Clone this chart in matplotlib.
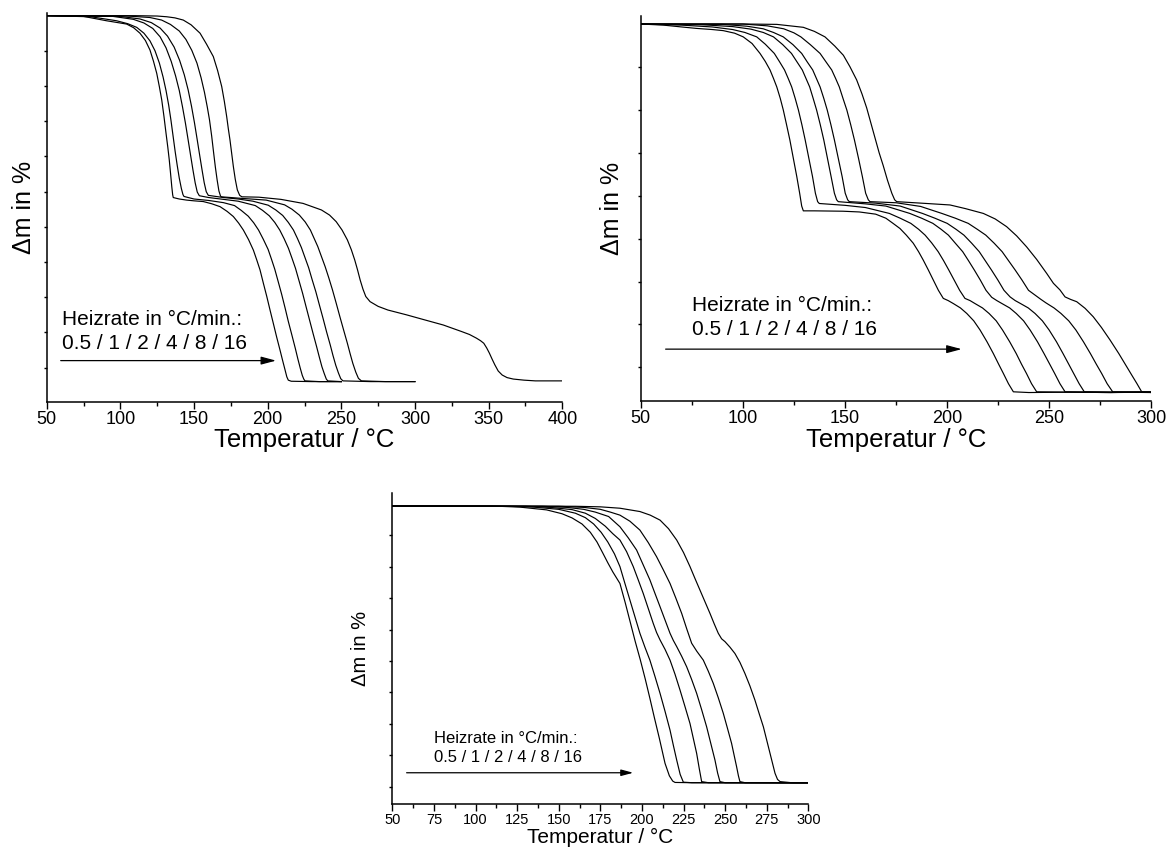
import matplotlib
matplotlib.use('Agg')
import matplotlib.pyplot as plt
from matplotlib.ticker import MultipleLocator
import numpy as np

plt.rcParams['font.family'] = ['Liberation Sans', 'DejaVu Sans']

# (Temperatur in °C, delta m in %), one list per heating rate

# --- top left panel ---
p1_r05 = [(50, 0), (75, -0.2), (90.7, -1.4), (104.3, -2.3), (109, -3.3), (113.3, -4.8), (117, -6.8), (120.1, -9.4),
          (122.5, -12.5), (124.7, -15.8), (126.5, -19.5), (128.1, -23.1), (129.6, -27.6), (131.0, -32.2), (132.2, -36),
          (133.2, -39.5), (134.1, -43.3), (134.9, -46.8), (135.5, -49), (135.9, -49.8), (140, -50.2), (145, -50.5),
          (150, -50.7), (156.3, -50.9), (162, -51.5), (167.7, -52.3), (172.5, -53.6), (176.7, -55.0), (180.3, -56.8),
          (183.5, -58.7), (187, -61.3), (190.3, -64.2), (192.6, -66.9), (194.8, -69.6), (197.1, -73.3), (199.4, -76.9),
          (201.6, -80.6), (203.8, -84.2), (206.1, -88), (208.4, -91.6), (210.2, -94.5), (211.8, -97), (213, -98.9),
          (214, -99.8), (216, -100.1), (230, -100.2), (250, -100.2)]
p1_r1 = [(50, 0), (80, -0.3), (97.5, -1.4), (105, -2.2), (111.1, -3.2), (116, -4.8), (120.1, -6.9), (123.5, -9.6),
         (126.5, -13), (129, -16.8), (131, -20.5), (132.8, -24.5), (134.3, -28.5), (135.8, -33), (137.2, -37.2),
         (138.6, -41), (140, -44.5), (141.4, -47.3), (142.5, -49), (143.2, -49.5), (150, -50.2), (160, -50.6),
         (170, -51.2), (177.5, -52.0), (182, -53.3), (186.8, -54.9), (190.5, -56.7), (193.8, -58.7), (197, -61.2),
         (200.3, -64), (202.6, -66.7), (204.8, -69.4), (207.2, -72.9), (209.5, -76.3), (211.8, -80), (214, -83.7),
         (216.4, -87.4), (218.7, -91), (220.5, -94), (222.1, -96.5), (223.5, -98.5), (224.5, -99.5), (225.3, -100),
         (235, -100.2), (250, -100.2)]
p1_r2 = [(50, 0), (95, -0.2), (108.8, -1.0), (116, -2.0), (122, -3.5), (127, -5.8), (131, -8.8), (134.5, -12.5),
         (137.5, -16.5), (140, -20.5), (142.2, -25), (144.2, -29.5), (146, -34), (147.7, -38.3), (149.3, -42.3),
         (150.8, -45.8), (152.2, -48.3), (153.6, -49.3), (160, -49.8), (170, -50.3), (180, -50.8), (191.6, -52),
         (196.5, -53.3), (201.1, -54.8), (204.8, -56.6), (208.2, -58.7), (211.2, -61.1), (214.1, -63.7), (216.5, -66.4),
         (218.9, -69.2), (221.3, -72.6), (223.7, -76), (226, -79.6), (228.4, -83.3), (230.8, -87), (233.2, -90.6),
         (235, -93.4), (236.8, -96.1), (238.4, -98), (239.8, -99.5), (240.8, -100), (250, -100.2)]
p1_r4 = [(50, 0), (100, -0.2), (113.3, -0.9), (121, -1.9), (127, -3.4), (132, -5.6), (136.5, -8.6), (140.2, -12.2),
         (143.4, -16.2), (146, -20.3), (148.3, -24.8), (150.3, -29.3), (152.1, -33.8), (153.8, -38.1), (155.4, -42.1),
         (156.9, -45.7), (158.3, -48.2), (159.7, -49.2), (170, -49.8), (180, -50.2), (190, -50.8), (200.4, -51.9),
         (205.5, -53.2), (210.2, -54.7), (214, -56.6), (217.5, -58.7), (220.2, -61), (222.9, -63.5), (225.3, -66.2),
         (227.8, -69), (230.2, -72.3), (232.7, -75.6), (235.1, -79.2), (237.6, -82.9), (240, -86.6), (242.5, -90.2),
         (244.3, -93), (246.2, -95.7), (248, -97.8), (249.6, -99.4), (251.1, -100), (270, -100.2), (300, -100.2)]
p1_r8 = [(50, 0), (105, -0.1), (120, -0.5), (128, -1.2), (134, -2.4), (140, -4.2), (144.5, -6.5), (148.5, -9.5),
         (152, -13), (154.8, -17), (157.1, -21), (159, -25), (160.5, -28.5), (162, -33), (163.3, -37.5), (164.5, -41.5),
         (165.7, -45), (166.9, -48), (168, -49.4), (168.6, -49.6), (181.4, -50), (199, -50.5), (211.5, -51.8),
         (216.5, -53), (221.5, -54.6), (225.5, -56.5), (229, -58.7), (234, -63.2), (239, -68.7), (241.5, -71.8),
         (244, -75.1), (246.5, -78.7), (249, -82.4), (251.5, -86), (254.1, -89.7), (256, -92.6), (257.8, -95.2),
         (259.8, -97.6), (261.6, -99.3), (263.6, -100), (280, -100.2), (300, -100.2)]
p1_r16 = [(50, 0), (110, 0), (125, -0.1), (131.5, -0.3), (137, -0.6), (142.7, -1.2), (148, -2.5), (154.1, -4.8),
          (158.5, -7.8), (163.1, -11.2), (166, -15), (168.8, -19.4), (170.6, -23.5), (172.2, -27.7), (173.3, -31),
          (174.4, -34), (175.5, -37.5), (176.7, -41.3), (178, -44.8), (179.4, -47.7), (181, -49.2), (182.5, -49.6),
          (194, -49.7), (209, -50.3), (224, -51.4), (236.5, -53.2), (242, -54.6), (246.5, -56.4), (250.5, -58.7),
          (254.1, -61.4), (256.8, -64.1), (259.1, -66.9), (261, -69.6), (262.8, -72.4), (264.7, -74.9), (266.6, -76.9),
          (269.5, -78.3), (275, -79.6), (281.6, -80.6), (294.1, -81.9), (306.6, -83.3), (319.2, -84.7), (331.7, -86.5),
          (337, -87.3), (341.7, -88.3), (344.5, -89), (346.7, -89.7), (348.7, -91), (350.5, -92.4), (352.3, -94),
          (354.2, -95.6), (356.5, -97.3), (359.2, -98.4), (362.5, -99.1), (366.7, -99.5), (374, -99.8), (381.7, -100),
          (400, -100)]

# --- top right panel ---
p2_r05 = [(50, 0), (61.1, -0.3), (70, -0.8), (77.4, -1.2), (85, -1.5), (90.4, -1.8), (96, -2.5), (100.2, -3.5),
          (104.5, -5.3), (108.4, -8.0), (111, -10.2), (113.3, -12.5), (115, -14.8), (116.6, -17.1), (118.3, -20.2),
          (119.8, -23.4), (121.4, -27.4), (123, -31.5), (124.7, -36.5), (126.4, -41.5), (127.8, -46), (128.8, -49.5),
          (129.6, -50.8), (135, -50.8), (149, -50.9), (157, -51.1), (165, -51.7), (170, -52.8), (173.5, -54.2),
          (176.9, -55.6), (180, -57.4), (183.4, -59.6), (186, -61.9), (188.3, -64.2), (190.8, -66.9), (193.2, -69.6),
          (195.7, -72.4), (198.1, -74.6), (200.5, -75.2), (203, -76), (206.5, -77.2), (209.6, -78.7), (213, -80.7),
          (216.1, -83.2), (219.5, -86.4), (222.6, -89.6), (225.2, -92.5), (227.5, -95), (230, -97.8), (232.4, -100),
          (240, -100.2), (260, -100.1), (280, -100.2), (300, -100)]
p2_r1 = [(50, 0), (70, -0.3), (85, -0.8), (95, -1.5), (101, -2.3), (106.8, -3.5), (111, -5.5), (115.4, -8),
         (118, -10.3), (120.4, -12.5), (122.2, -14.8), (123.9, -17.1), (125.6, -20.2), (127.2, -23.4), (128.9, -27.4),
         (130.5, -31.5), (132.3, -36.5), (134.1, -41.5), (135.5, -46), (136.6, -48.3), (137.4, -48.8), (150, -49.3),
         (160, -49.9), (171.7, -51.5), (177, -52.8), (182.2, -54.2), (186, -55.8), (189.2, -57.4), (192.4, -59.5),
         (195.6, -61.9), (198.2, -64.3), (200.8, -66.9), (203.5, -69.7), (206.1, -72.4), (208.7, -74.6), (211.2, -75.2),
         (213.6, -76), (217.3, -77.2), (220.5, -78.7), (224.0, -80.7), (227.1, -83.2), (230.6, -86.4), (233.8, -89.6),
         (236.4, -92.5), (238.8, -95), (241.3, -97.8), (243.8, -100), (260, -100.1), (280, -100.2), (300, -100.1)]
p2_r2 = [(50, 0), (80, -0.2), (95, -0.7), (104, -1.4), (110, -2.3), (115, -3.5), (119.5, -5.6), (123.8, -8),
         (126.5, -10.3), (129.1, -12.5), (130.9, -14.8), (132.7, -17.1), (134.4, -20.2), (136.1, -23.4), (137.9, -27.4),
         (139.6, -31.5), (141.4, -36.5), (143.2, -41.5), (144.8, -46), (145.9, -47.8), (146.7, -48.3), (160, -48.9),
         (170, -49.5), (181.7, -51.5), (187.5, -52.8), (193, -54.2), (197, -55.8), (200.6, -57.4), (204, -59.6),
         (207.6, -61.9), (210.5, -64.4), (213.3, -66.9), (216.2, -69.6), (219, -72.4), (221.8, -74.3), (224.3, -75.2),
         (226.8, -76), (230.6, -77.2), (233.8, -78.7), (237.4, -80.7), (240.6, -83.2), (244.2, -86.4), (247.4, -89.6),
         (250.2, -92.5), (252.6, -95), (255.2, -97.8), (257.7, -100), (280, -100.1), (300, -100.1)]
p2_r4 = [(50, 0), (90, -0.1), (102, -0.6), (110, -1.3), (115, -2.3), (119.8, -3.5), (124.5, -5.6), (128.8, -8),
         (131.5, -10.3), (134.2, -12.5), (136, -14.8), (137.8, -17.1), (139.6, -20.2), (141.3, -23.4), (143.1, -27.4),
         (144.8, -31.5), (146.7, -36.5), (148.6, -41.5), (150.1, -46), (151.3, -47.8), (152.1, -48.3), (165, -48.7),
         (177, -49.5), (187.9, -51.5), (194, -52.8), (200, -54.2), (204.3, -55.8), (208.2, -57.4), (212, -59.6),
         (215.7, -61.9), (218.7, -64.4), (221.7, -66.9), (224.8, -69.6), (227.8, -72.4), (230.8, -74.2), (233.3, -75.2),
         (235.9, -76), (239.7, -77.2), (243, -78.7), (246.6, -80.7), (249.9, -83.2), (253.5, -86.4), (256.7, -89.6),
         (259.5, -92.5), (261.9, -95), (264.6, -97.8), (267.1, -100), (285, -100.1), (300, -100.2)]
p2_r8 = [(50, 0), (100, 0), (112, -0.5), (120, -1.3), (125, -2.4), (128.4, -3.5), (133, -5.6), (137.8, -8),
         (140.7, -10.3), (143.5, -12.5), (145.4, -14.8), (147.2, -17.1), (149, -20.2), (150.9, -23.4), (152.8, -27.4),
         (154.6, -31.5), (156.6, -36.5), (158.5, -41.5), (160.1, -46), (161.4, -47.8), (162.2, -48.3), (175, -48.6),
         (187, -49.6), (197.4, -51.5), (204, -52.8), (210.3, -54.2), (214.7, -55.8), (218.9, -57.4), (223, -59.6),
         (226.9, -61.9), (230.1, -64.4), (233.3, -66.9), (236.6, -69.6), (239.8, -72.4), (243, -73.7), (245.7, -74.8),
         (248.3, -75.8), (252.3, -77.2), (255.7, -78.7), (259.5, -80.7), (263, -83.2), (266.7, -86.4), (270.1, -89.6),
         (273, -92.5), (275.6, -95), (278.3, -97.8), (281, -100), (300, -100.1)]
p2_r16 = [(50, 0), (100, 0), (116.6, -0.1), (129.6, -0.9), (135, -2), (140.2, -3.5), (145, -6), (149.2, -8.5),
          (152.4, -11.6), (155.7, -15.2), (158.3, -19), (160.6, -22.8), (162.7, -27), (164.7, -31), (166.7, -35),
          (168.7, -38.5), (170.8, -42.5), (172.9, -46), (174.3, -47.8), (175.3, -48.3), (190, -48.8), (201.4, -49.2),
          (209, -50.2), (217.7, -51.5), (223.5, -53), (229.1, -55.1), (234, -57.6), (238.9, -60.6), (243.8, -64),
          (248.7, -67.8), (252, -70.5), (255.2, -72.3), (257.7, -74.2), (260.5, -74.9), (263.4, -75.5), (267.5, -77.3),
          (271.5, -79.6), (275.5, -82.5), (279.7, -85.9), (284, -89.6), (287.9, -93.2), (290.5, -95.6), (292.8, -97.7),
          (295.2, -100), (300, -100.2)]

# --- bottom panel ---
p3_r05 = [(50, 0), (110, 0), (126.7, -0.4), (142.7, -1.4), (152, -2.8), (158, -4.3), (164, -6.5), (169, -9.5),
          (173, -13), (176.5, -17), (179.5, -20.5), (182.5, -23.8), (186.8, -28), (190, -35), (193, -42), (196, -49),
          (199, -55.5), (202, -62.5), (204.8, -69.5), (207.5, -76.5), (210.5, -84), (213.9, -93), (216.5, -97.5),
          (218.5, -99.4), (219.9, -99.9), (230, -100), (260, -100), (300, -100.1)]
p3_r1 = [(50, 0), (120, -0.1), (135, -0.4), (150, -1.2), (160, -2.6), (166, -4.2), (171, -6.5), (175.5, -9.5),
         (179.5, -13), (183.5, -17.3), (186.8, -21.9), (189.8, -28), (192.8, -34), (195.8, -40), (198.8, -46),
         (201.8, -51), (204.8, -55.7), (207.8, -61.5), (210.9, -67.7), (213.9, -74.2), (216.9, -81), (218.9, -86.5),
         (220.9, -91.8), (223, -97), (224.9, -99.8), (230, -100), (300, -100)]
p3_r2 = [(50, 0), (130, -0.1), (145, -0.5), (158, -1.3), (166, -2.6), (172, -4.5), (178, -7.3), (182.5, -10),
         (186.8, -12.3), (190.8, -16.5), (194.8, -21.9), (197.8, -26.7), (200.8, -31.6), (203.8, -37), (206.8, -42.4),
         (208.8, -45.7), (210.9, -48.4), (213.9, -51.8), (216.9, -55.7), (219.9, -60.8), (222.9, -66.5), (225.9, -72.5),
         (228.9, -78.6), (230.9, -84), (232.9, -89.4), (234.5, -95), (235.9, -99.6), (240, -100), (300, -100)]
p3_r4 = [(50, 0), (140, -0.1), (155, -0.5), (165, -1.2), (172, -2.2), (180, -3.8), (186.8, -7.5), (191.8, -11.5),
         (196.8, -15.9), (200.8, -21.3), (204.8, -26.7), (207.8, -31.5), (210.9, -36.4), (213.9, -41.2), (216.9, -46.0),
         (218.9, -48.6), (220.9, -50.8), (223.9, -54.3), (226.9, -58.1), (229.9, -62.7), (232.9, -67.7), (235.9, -73.6),
         (238.9, -79.8), (241.4, -85.8), (243.9, -91.8), (245.5, -96.5), (246.9, -99.6), (250, -100), (300, -100)]
p3_r8 = [(50, 0), (150, -0.1), (165, -0.5), (175, -1.2), (181, -2.2), (186.8, -3.3), (192.8, -5.5), (198.8, -8.7),
         (203.8, -13.2), (208.8, -18.3), (212.8, -23), (216.9, -28.0), (220.4, -33.3), (223.9, -38.8), (227, -44.5),
         (229.9, -49.6), (233, -52.5), (236.9, -55.7), (239.9, -59.7), (242.9, -64.1), (245.9, -69.3), (248.9, -74.9),
         (251.4, -80.3), (253.9, -85.8), (255.5, -90.3), (256.9, -94.2), (258, -97.5), (258.9, -99.6), (262, -100),
         (300, -100)]
p3_r16 = [(50, 0), (160, -0.1), (175, -0.3), (186.8, -0.8), (198.8, -2.0), (205, -3.3), (210.9, -5.1), (216, -8.2),
          (220.9, -12.3), (225, -16.8), (228.9, -21.9), (231.9, -26.2), (234.9, -30.4), (237.9, -34.6), (240.9, -38.8),
          (243.4, -42.5), (245.9, -46.0), (247.9, -48), (249.9, -49.0), (252.9, -51), (255.9, -53.3), (258.9, -56.5),
          (261.9, -60.5), (264.9, -65), (267.9, -70.1), (270.4, -74.9), (273, -79.8), (275, -84.6), (277, -89.4),
          (278.5, -93), (280, -96.6), (281.5, -98.8), (283, -99.6), (290, -100), (300, -100)]

rate_title = 'Heizrate in °C/min.:'
rate_list = '0.5 / 1 / 2 / 4 / 8 / 16'
xlabel = 'Temperatur / °C'
ylabel = 'Δm in %'


def style_axes(ax, xmax, xstep, ylim, yticks, tick_fs, xlab_fs, ylab_fs, ylab_x):
    ax.set_xlim(50, xmax)
    ax.set_ylim(*ylim)
    ax.spines['top'].set_visible(False)
    ax.spines['right'].set_visible(False)
    for s in ('left', 'bottom'):
        ax.spines[s].set_linewidth(1.1)
    ax.xaxis.set_major_locator(MultipleLocator(xstep))
    ax.xaxis.set_minor_locator(MultipleLocator(xstep / 2))
    ax.set_yticks(yticks)
    ax.set_yticklabels([])
    ax.tick_params(axis='x', which='major', direction='out', length=5, width=1, pad=1.5, labelsize=tick_fs)
    ax.tick_params(axis='x', which='minor', direction='out', length=3, width=1)
    ax.tick_params(axis='y', which='major', direction='out', length=2.5, width=1)
    ax.set_xlabel(xlabel, fontsize=xlab_fs, labelpad=0.5)
    ax.set_ylabel(ylabel, fontsize=ylab_fs)
    ax.yaxis.set_label_coords(ylab_x, 0.5)


def draw_curves(ax, curves):
    for c in curves:
        t, m = zip(*c)
        ax.plot(t, m, color='black', lw=0.85)


def rate_note(ax, tx, y1, y2, fs, ax0, ax1, ay):
    ax.text(tx, y1, rate_title, fontsize=fs, va='baseline', ha='left')
    ax.text(tx, y2, rate_list, fontsize=fs, va='baseline', ha='left')
    ax.annotate('', xy=(ax1, ay), xytext=(ax0, ay),
                arrowprops=dict(arrowstyle='-|>,head_length=0.6,head_width=0.16',
                                color='black', lw=0.9, mutation_scale=fs, shrinkA=0, shrinkB=0))


fig = plt.figure(figsize=(11.69, 8.49), dpi=100)

ax1 = fig.add_axes([0.03995, 0.52686, 0.44106, 0.45748])
draw_curves(ax1, [p1_r05, p1_r1, p1_r2, p1_r4, p1_r8, p1_r16])
style_axes(ax1, 400, 50, (-105.7, 0.65), -96.4 + 9.65 * np.arange(10), 13, 18.5, 18, -0.02)
rate_note(ax1, 60.3, -84.7, -91.3, 15, 59.5, 205.7, -94.45)

ax2 = fig.add_axes([0.54807, 0.52768, 0.43695, 0.45383])
draw_curves(ax2, [p2_r05, p2_r1, p2_r2, p2_r4, p2_r8, p2_r16])
style_axes(ax2, 300, 50, (-102.5, 2.26), -93.3 + 11.64 * np.arange(8), 13, 18.5, 18, -0.033)
rate_note(ax2, 75.0, -78.0, -84.6, 15, 62.2, 207.1, -88.4)

ax3 = fig.add_axes([0.33559, 0.05265, 0.35586, 0.36631])
draw_curves(ax3, [p3_r05, p3_r1, p3_r2, p3_r4, p3_r8, p3_r16])
style_axes(ax3, 300, 25, (-107.8, 4.59), -101.4 + 11.35 * np.arange(9), 10.5, 15, 14.5, -0.054)
rate_note(ax3, 75.2, -85.5, -92.4, 12, 58.6, 194.8, -96.4)

fig.savefig('out.png', dpi=100)
